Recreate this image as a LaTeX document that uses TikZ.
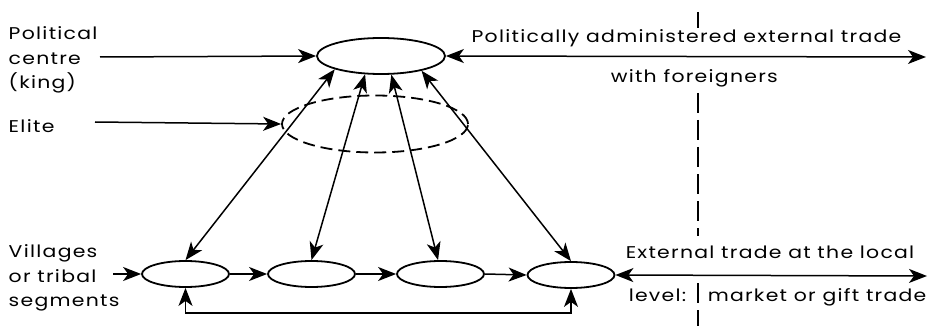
\documentclass[tikz,border=0pt]{standalone}
\usepackage{fontspec}
\setmainfont{Poppins}[FakeStretch=1.2,LetterSpace=7.5]
\usetikzlibrary{arrows.meta,shapes.geometric}
\begin{document}
\begin{tikzpicture}[x=1pt,y=-1pt,line width=1.5pt,
  font=\fontsize{17}{24.5}\selectfont,
  headtip/.tip={Stealth[length=18pt,width=14pt,inset=5pt]},
  tipend/.style={-headtip},
  tipboth/.style={headtip-headtip},
  oval/.style={ellipse,draw,line width=1.8pt,inner sep=0pt},
  village/.style={oval,minimum width=87pt,minimum height=26pt},
  lbl/.style={inner sep=0pt},
  sideline/.style={align=left,anchor=west,inner sep=0pt}]
\useasboundingbox (0,0) rectangle (929,326);

% dashed vertical boundary
\draw[line width=1.4pt,dash pattern=on 20pt off 7pt] (698,12) -- (698,28);
\draw[line width=1.4pt,dash pattern=on 20pt off 7pt] (698,93) -- (698,236);
\draw[line width=1.4pt,dash pattern=on 20pt off 7pt] (698,283) -- (698,326);

% ellipses
\node[oval,minimum width=128pt,minimum height=36pt] (top) at (381,56) {};
\node[oval,dash pattern=on 12pt off 6pt,minimum width=186pt,minimum height=57pt] (elite) at (375,124) {};
\node[village] (e1) at (185.5,274) {};
\node[village] (e2) at (311.5,274) {};
\node[village] (e3) at (440.5,274) {};
\node[village] (e4) at (571,275) {};

% left labels
\node[sideline] (pc) at (8,60) {Political\\centre\\(king)};
\node[lbl,anchor=base west] (el) at (8,132) {Elite};
\node[sideline] (vl) at (8,278) {Villages\\or tribal\\segments};

\coordinate (pcs) at (100,57);
\coordinate (els) at (95,122);
\coordinate (vls) at (113,274);
\coordinate (tr) at (926,57);
\coordinate (br) at (927,276);
\coordinate (fb) at (400,313);

\draw[tipend] (pcs) -- (top.west);
\draw[tipend] (els) -- (elite.west);
\draw[tipend] (vls) -- (e1.west);

\draw[tipend] (e1.east) -- (e2.west);
\draw[tipend] (e2.east) -- (e3.west);
\draw[tipend] (e3.east) -- (e4.west);

\draw[tipboth] (e1.south) |- (fb) -| (e4.south);

\draw[tipboth] (top.196) -- (e1.north);
\draw[tipboth] (top.229) -- (e2.north);
\draw[tipboth] (top.299) -- (e3.100);
\draw[tipboth] (top.340) -- (e4.north);

\draw[tipboth] (top.east) -- (tr);
\draw[tipboth] (e4.east) -- (br);

% right labels
\node[lbl,anchor=base] (t1) at (686.5,43) {Politically administered external trade};
\node[lbl,anchor=base west] (t2) at (610,83) {with foreigners};
\node[lbl,anchor=base west] (t3) at (625,258) {External trade at the local};
\node[lbl,anchor=base west] (t4a) at (628,301) {level:};
\node[lbl,anchor=base west] (t4b) at (707,301) {market or gift trade};
\end{tikzpicture}
\end{document}
